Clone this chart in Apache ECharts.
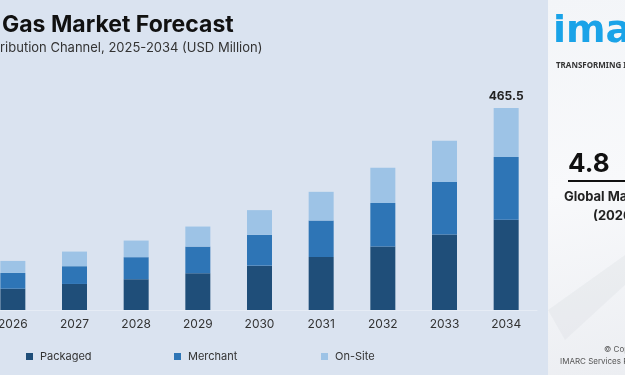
<!DOCTYPE html>
<html>
<head>
<meta charset="utf-8">
<script src="https://cdn.jsdelivr.net/npm/echarts@6/dist/echarts.min.js"></script>
<style>
    html, body { margin: 0; padding: 0; }
    #main { width: 625px; height: 375px; }
</style>
</head>
<body>
<div id="main"></div>
<script>
var years = ['2026', '2027', '2028', '2029', '2030', '2031', '2032', '2033', '2034'];
var packaged = [49.2, 60.0, 70.9, 84.7, 102.2, 122.3, 146.1, 173.8, 207.7];
var merchant = [36.2, 40.9, 50.8, 61.4, 70.9, 83.8, 100.2, 120.9, 144.7];
var onSite = [27.7, 33.7, 38.3, 46.2, 57.0, 66.2, 81.5, 95.3, 113.1];
var lastTotal = '465.5';

(function () {
    var chart = echarts.init(document.getElementById('main'));
    var font = 'Inter, "Noto Sans", sans-serif';

    function legendAt(name, left) {
        return {
            data: [name],
            left: left,
            top: 351,
            padding: 0,
            icon: 'rect',
            itemWidth: 7,
            itemHeight: 7,
            itemGap: 0,
            textStyle: { color: '#333', fontSize: 11, fontFamily: font, padding: [0, 0, 0, 2] }
        };
    }

    var option = {
        backgroundColor: '#dae3f0',
        animation: false,
        color: ['#1f4e79', '#2e75b6', '#9dc3e6'],
        legend: [
            legendAt('Packaged', 26),
            legendAt('Merchant', 174),
            legendAt('On-Site', 321)
        ],
        grid: {
            left: -18,
            right: 88,
            top: 93,
            bottom: 65,
            outerBoundsMode: 'none',
            containLabel: false
        },
        xAxis: {
            type: 'category',
            data: years,
            axisLine: { lineStyle: { color: '#e6ecf5', width: 1 } },
            axisTick: { show: false },
            axisLabel: { color: '#333', fontSize: 12, fontFamily: font, margin: 8 }
        },
        yAxis: {
            type: 'value',
            min: 0,
            max: 500,
            show: false,
            splitLine: { show: false }
        },
        series: [
            { name: 'Packaged', type: 'bar', stack: 'total', barWidth: 25, data: packaged },
            { name: 'Merchant', type: 'bar', stack: 'total', barWidth: 25, data: merchant },
            {
                name: 'On-Site', type: 'bar', stack: 'total', barWidth: 25, data: onSite,
                label: {
                    show: true,
                    position: 'top',
                    distance: 6,
                    color: '#222',
                    fontSize: 12,
                    fontWeight: 'bold',
                    fontFamily: font,
                    formatter: function (p) {
                        return p.dataIndex === years.length - 1 ? lastTotal : '';
                    }
                }
            }
        ],
        graphic: [
            {
                type: 'text',
                x: 2, y: 14,
                style: { text: 'Gas Market Forecast', fill: '#111', font: 'bold 23px ' + font }
            },
            {
                type: 'text',
                x: 0, y: 42,
                style: { text: 'ribution Channel, 2025-2034 (USD Million)', fill: '#333', font: '13px ' + font }
            },
            {
                type: 'rect',
                shape: { x: 548, y: 0, width: 77, height: 375 },
                style: {
                    fill: new echarts.graphic.LinearGradient(0, 0, 1, 1, [
                        { offset: 0, color: '#f3f5f8' },
                        { offset: 0.5, color: '#f8f9fb' },
                        { offset: 1, color: '#eceef2' }
                    ])
                }
            },
            {
                type: 'polygon',
                shape: { points: [[548, 310], [625, 255], [625, 285], [565, 340]] },
                style: { fill: 'rgba(205,210,217,0.2)' }
            },
            {
                type: 'text',
                x: 553, y: 13,
                style: { text: 'imarc', fill: '#1aa3e8', font: 'bold 38px "DejaVu Sans", sans-serif' }
            },
            {
                type: 'text',
                x: 556, y: 62,
                style: { text: 'TRANSFORMING IDEAS INTO IMPACT', fill: '#333', font: 'bold 8px "Noto Sans", sans-serif' }
            },
            {
                type: 'text',
                x: 568, y: 151,
                style: { text: '4.8', fill: '#111', font: 'bold 26px ' + font }
            },
            {
                type: 'rect',
                shape: { x: 568, y: 180, width: 57, height: 2 },
                style: { fill: '#111' }
            },
            {
                type: 'text',
                x: 564, y: 191,
                style: { text: 'Global Market Growth Rate', fill: '#222', font: 'bold 13px ' + font }
            },
            {
                type: 'text',
                x: 593, y: 210,
                style: { text: '(2026-2034)', fill: '#222', font: 'bold 13px ' + font }
            },
            {
                type: 'text',
                x: 604, y: 346,
                style: { text: '\u00a9 Copyright', fill: '#555', font: '8px ' + font }
            },
            {
                type: 'text',
                x: 560, y: 358,
                style: { text: 'IMARC Services Private Limited', fill: '#555', font: '8px ' + font }
            }
        ]
    };

    chart.setOption(option);
})();
</script>
</body>
</html>
